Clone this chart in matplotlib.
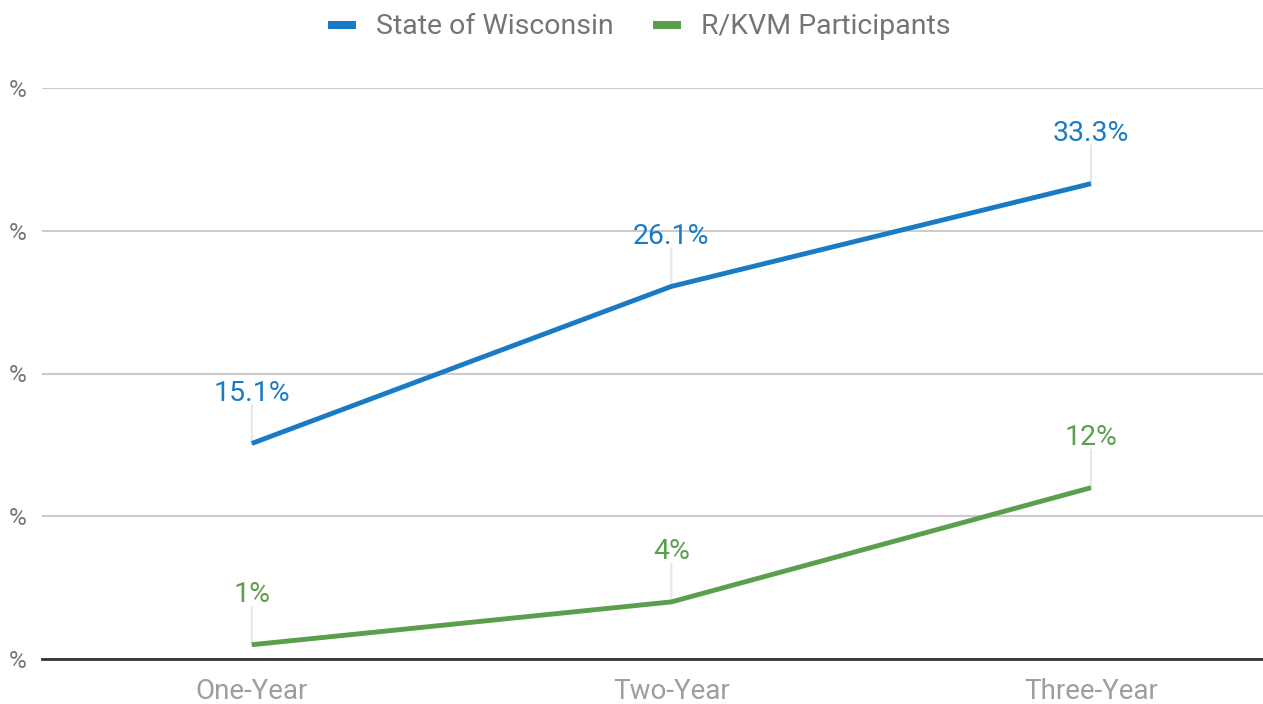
import matplotlib
matplotlib.use("Agg")
import matplotlib.pyplot as plt
from matplotlib.lines import Line2D

categories = ["One-Year", "Two-Year", "Three-Year"]
wisconsin = [15.1, 26.1, 33.3]
rkvm = [1, 4, 12]
wis_labels = ["15.1%", "26.1%", "33.3%"]
rkvm_labels = ["1%", "4%", "12%"]
yticks = [0, 10, 20, 30, 40]
ytick_labels = ["%", "%", "%", "%", "%"]

BLUE = "#1a7bc4"
GREEN = "#5b9e4c"

plt.rcParams['font.family'] = ['Roboto', 'DejaVu Sans']

W, H = 1263, 704
fig = plt.figure(figsize=(W / 100, H / 100), dpi=100)
ax = fig.add_axes([42 / W, 45 / H, 1 - 42 / W, (659 - 88) / H])

x = list(range(len(categories)))
ax.plot(x, wisconsin, color=BLUE, lw=3.5, solid_capstyle='butt', zorder=3)
ax.plot(x, rkvm, color=GREEN, lw=3.5, solid_capstyle='butt', zorder=3)

ax.set_xlim(-0.5, 2.41)
ax.set_ylim(0, 40)
ax.set_yticks(yticks)
ax.set_yticklabels(ytick_labels)
ax.set_xticks(x)
ax.set_xticklabels(categories)

ax.grid(axis='y', color='#cccccc', lw=1.5)
ax.set_axisbelow(True)
for s in ['top', 'right', 'left']:
    ax.spines[s].set_visible(False)
ax.spines['bottom'].set_color('#333333')
ax.spines['bottom'].set_linewidth(2)
ax.tick_params(axis='both', length=0)
ax.tick_params(axis='y', labelsize=17.5, labelcolor='#757575', pad=11)
ax.tick_params(axis='x', labelsize=20, labelcolor='#9e9e9e', pad=14)

def annotate(vals, labels, color):
    for xi, v, lab in zip(x, vals, labels):
        ax.annotate("", xy=(xi, v), xytext=(0, 38), textcoords='offset pixels',
                    xycoords='data',
                    arrowprops=dict(arrowstyle='-', color='#e6e6e6', lw=1.5,
                                    shrinkA=0, shrinkB=0), zorder=2)
        ax.annotate(lab, xy=(xi, v), xytext=(0, 50), textcoords='offset pixels',
                    ha='center', va='center', color=color, fontsize=20.5, zorder=4)

annotate(wisconsin, wis_labels, BLUE)
annotate(rkvm, rkvm_labels, GREEN)

handles = [Line2D([], [], color=BLUE, lw=5.8, solid_capstyle='butt'),
           Line2D([], [], color=GREEN, lw=5.8, solid_capstyle='butt')]
leg = fig.legend(handles, ["State of Wisconsin", "R/KVM Participants"],
                 loc='center', bbox_to_anchor=(639 / W, 1 - 27 / H), ncol=2,
                 frameon=False, fontsize=20.5, handlelength=1.0, handletextpad=0.67,
                 columnspacing=1.4, labelcolor='#757575')

fig.savefig("out.png", dpi=100)
